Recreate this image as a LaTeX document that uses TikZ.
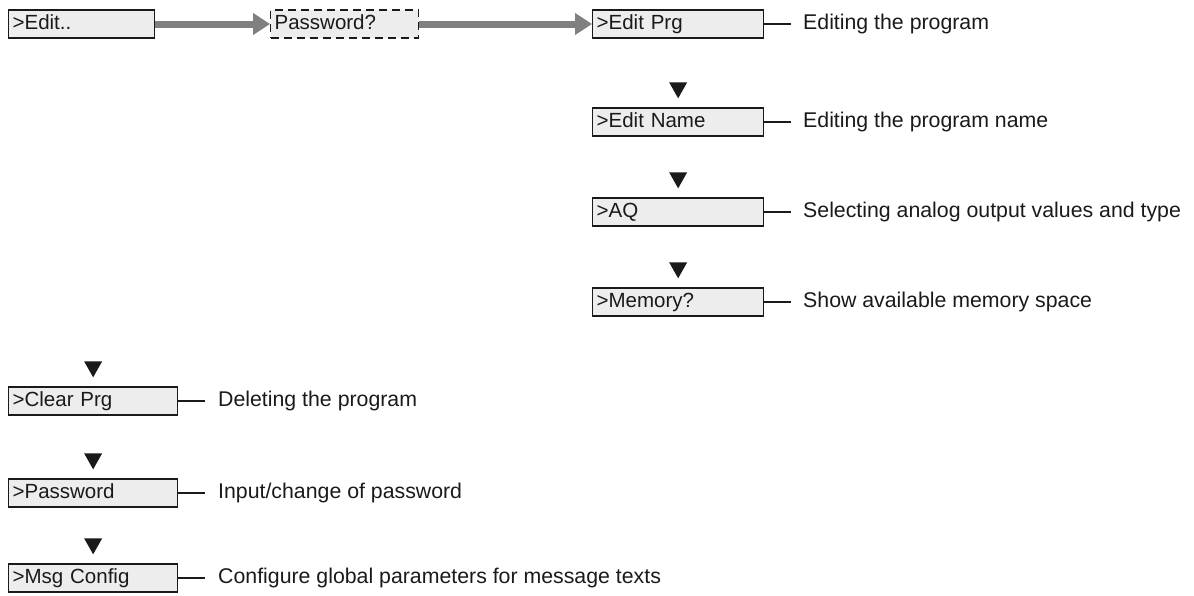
\documentclass[tikz,border=0pt]{standalone}
\usepackage{fontspec}
\setmainfont{Liberation Sans}
\usetikzlibrary{arrows.meta}
\definecolor{boxfill}{HTML}{EDEDED}
\definecolor{arrowgray}{HTML}{808080}
\definecolor{ink}{HTML}{1A1A1A}
\begin{document}
\begin{tikzpicture}[x=1pt,y=-1pt,
  menubox/.style={draw=ink, fill=boxfill, line width=1.3pt, minimum height=28pt,
    anchor=west, inner xsep=4pt, inner ysep=0pt, align=left,
    text height=15pt, text depth=4pt, font=\fontsize{20.5}{24}\selectfont, text=ink},
  desc/.style={anchor=west, inner sep=0pt, text height=15pt, text depth=4pt,
    font=\fontsize{21.3}{25}\selectfont, text=ink},
  garrow/.style={draw=arrowgray, line width=7pt,
    -{Triangle[length=17pt,width=21pt]}},
  tick/.style={draw=ink, line width=1.4pt},
  marker/.style={fill=ink}]
\useasboundingbox (0,0) rectangle (1194,595);

% top row
\node[menubox, minimum width=146pt, text width=138pt] (edit) at (8,24) {>Edit..};
\node[menubox, dashed, dash pattern=on 8pt off 5pt, minimum width=148pt, text width=140pt] (pw) at (270,24) {Password?};
\node[menubox, minimum width=171pt, text width=163pt] (editprg) at (592,24) {>Edit Prg};
\draw[garrow] (edit.east) -- (pw.west);
\draw[garrow] (pw.east) -- (editprg.west);

% right column
\node[menubox, minimum width=171pt, text width=163pt] (editname) at (592,122) {>Edit Name};
\node[menubox, minimum width=171pt, text width=163pt] (aq) at (592,212) {>AQ};
\node[menubox, minimum width=171pt, text width=163pt] (mem) at (592,302) {>Memory?};

% left column
\node[menubox, minimum width=169pt, text width=161pt] (clear) at (8,401) {>Clear Prg};
\node[menubox, minimum width=169pt, text width=161pt] (pwd) at (8,493) {>Password};
\node[menubox, minimum width=169pt, text width=161pt] (msg) at (8,578) {>Msg Config};

% descriptions
\node[desc] (d1) at (803,24) {Editing the program};
\node[desc] (d2) at (803,122) {Editing the program name};
\node[desc] (d3) at (803,212) {Selecting analog output values and type};
\node[desc] (d4) at (803,302) {Show available memory space};
\node[desc] (d5) at (218,401) {Deleting the program};
\node[desc] (d6) at (218,493) {Input/change of password};
\node[desc] (d7) at (218,578) {Configure global parameters for message texts};

\foreach \b in {editprg,editname,aq,mem,clear,pwd,msg}{
  \draw[tick] (\b.east) -- ++(27,0);
}

% down markers
\foreach \b in {editname,aq,mem,clear,pwd,msg}{
  \fill[marker] ([xshift=-9pt,yshift=25pt]\b.north) -- ([xshift=9pt,yshift=25pt]\b.north) -- ([yshift=9pt]\b.north) -- cycle;
}
\end{tikzpicture}
\end{document}
